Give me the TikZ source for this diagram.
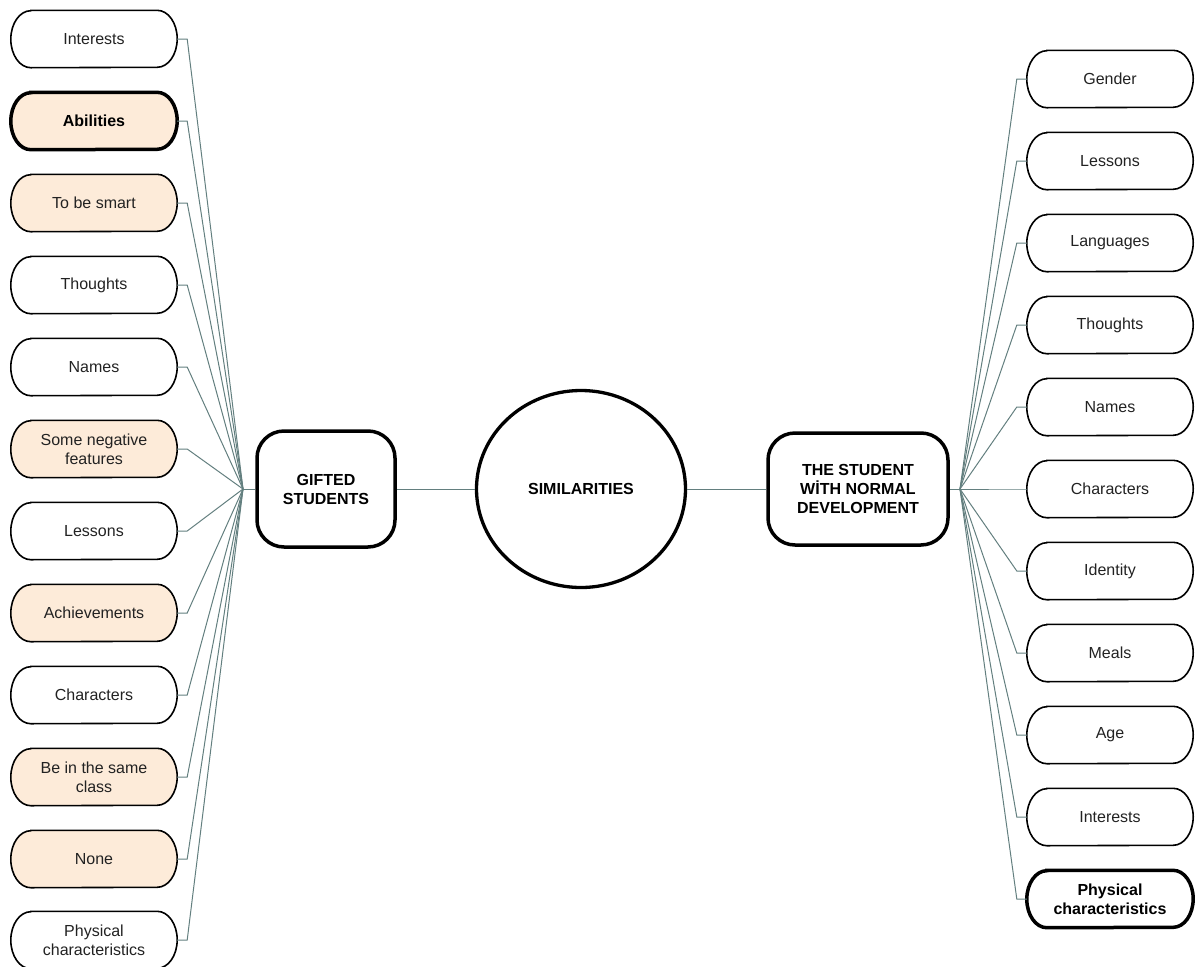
\documentclass[tikz,border=0pt]{standalone}
\usepackage{fontspec}
\setmainfont{Liberation Sans}
\usetikzlibrary{shapes.geometric,calc,backgrounds}
\definecolor{peach}{HTML}{FDEBD9}
\definecolor{conn}{HTML}{637F7F}
\definecolor{txt}{HTML}{222222}
% outline of a leaf box with elliptical corners
\newcommand\leafpath[1]{($(#1.north west)+(20,0)$) -- ($(#1.north east)+(-20,0)$)
  arc[start angle=90,end angle=-90,x radius=20pt,y radius=28.5pt]
  -- ($(#1.south west)+(20,0)$)
  arc[start angle=270,end angle=90,x radius=20pt,y radius=28.5pt] -- cycle}
\begin{document}
\begin{tikzpicture}[x=1pt,y=-1pt,
  leaf/.style={minimum width=166pt, minimum height=57pt, align=center, inner sep=0pt, font=\fontsize{16}{19}\selectfont, text=txt},
  strongtext/.style={font=\fontsize{16}{19}\selectfont\bfseries, text=black},
  thinborder/.style={draw=black, line width=1.6pt},
  thickborder/.style={draw=black, line width=3.5pt},
  hubbox/.style={draw, line width=3.5pt, rounded corners=27pt, align=center, font=\fontsize{16}{19}\selectfont\bfseries, inner sep=0pt},
  link/.style={draw=conn, line width=1pt}]
\useasboundingbox (0,0) rectangle (1195,967);

% left leaves
\node[leaf] (L1) at (94,39) {Interests};
\node[leaf,strongtext] (L2) at (94,121) {Abilities};
\node[leaf] (L3) at (94,203) {To be smart};
\node[leaf] (L4) at (94,285) {Thoughts};
\node[leaf] (L5) at (94,367) {Names};
\node[leaf] (L6) at (94,449) {Some negative\\features};
\node[leaf] (L7) at (94,531) {Lessons};
\node[leaf] (L8) at (94,613) {Achievements};
\node[leaf] (L9) at (94,695) {Characters};
\node[leaf] (L10) at (94,777) {Be in the same\\class};
\node[leaf] (L11) at (94,859) {None};
\node[leaf] (L12) at (94,940) {Physical\\characteristics};

% right leaves
\node[leaf] (R1) at (1110,79) {Gender};
\node[leaf] (R2) at (1110,161) {Lessons};
\node[leaf] (R3) at (1110,243) {Languages};
\node[leaf] (R4) at (1110,325) {Thoughts};
\node[leaf] (R5) at (1110,407) {Names};
\node[leaf] (R6) at (1110,489) {Characters};
\node[leaf] (R7) at (1110,571) {Identity};
\node[leaf] (R8) at (1110,653) {Meals};
\node[leaf] (R9) at (1110,735) {Age};
\node[leaf] (R10) at (1110,817) {Interests};
\node[leaf,strongtext] (R11) at (1110,899) {Physical\\characteristics};

% leaf fills (behind text)
\begin{scope}[on background layer]
\foreach \n in {L2,L3,L6,L8,L10,L11} {\fill[peach] \leafpath{\n};}
\end{scope}

% leaf outlines
\foreach \n in {L1,L3,L4,L5,L6,L7,L8,L9,L10,L11,L12,R1,R2,R3,R4,R5,R6,R7,R8,R9,R10} {\draw[thinborder] \leafpath{\n};}
\foreach \n in {L2,R11} {\draw[thickborder] \leafpath{\n};}

% central nodes
\node[hubbox, minimum width=138pt, minimum height=116pt] (gifted) at (326,489) {GIFTED\\STUDENTS};
\node[hubbox, minimum width=180pt, minimum height=112pt] (normal) at (858,489) {THE STUDENT\\WİTH NORMAL\\DEVELOPMENT};
\node[draw, ellipse, line width=3.3pt, minimum width=209pt, minimum height=197pt, inner sep=0pt, font=\fontsize{16}{19}\selectfont\bfseries] (sim) at (581,489) {SIMILARITIES};

\coordinate (hubL) at (243,489);
\coordinate (hubR) at (960,489);

% connectors
\foreach \i in {1,...,12} {\draw[link] (L\i.east) -- ++(10,0) -- (hubL);}
\foreach \i in {1,...,11} {\draw[link] (R\i.west) -- ++(-10,0) -- (hubR);}
\draw[link] (hubL) -- (gifted.west);
\draw[link] (gifted.east) -- (sim.west);
\draw[link] (sim.east) -- (normal.west);
\draw[link] (normal.east) -- (hubR);
\end{tikzpicture}
\end{document}
